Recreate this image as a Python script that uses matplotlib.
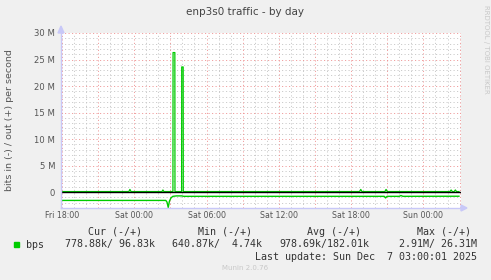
import matplotlib
matplotlib.use("Agg")
import matplotlib.pyplot as plt
from matplotlib.patches import Rectangle, Polygon

W, H = 491, 280

# --- dane (godziny od pt 18:00, Mbit/s) ---
in_hours = [-0.08, 3.0, 6.0, 8.62, 8.72, 8.82, 8.92, 9.05, 9.2, 9.5, 9.95, 10.1,
            14.0, 20.0, 26.75, 26.86, 26.98, 28.0, 28.13, 28.3, 32.95]
in_mbps = [1.57, 1.57, 1.57, 1.57, 1.9, 2.91, 1.7, 1.1, 0.8, 0.72, 0.72, 0.8,
           0.8, 0.8, 0.8, 1.1, 0.8, 0.8, 0.65, 0.8, 0.78]

out_hours = [-0.08, 5.55, 5.64, 5.73, 8.3, 8.38, 8.46, 9.21, 9.22, 9.37, 9.38,
             9.93, 9.94, 10.06, 10.07, 24.7, 24.8, 24.9, 26.8, 26.9, 27.0,
             32.2, 32.3, 32.4, 32.55, 32.65, 32.75, 32.95]
out_mbps = [0.1, 0.1, 0.5, 0.1, 0.1, 0.4, 0.1, 0.1, 26.31, 26.31, 0.1,
            0.1, 23.6, 23.6, 0.1, 0.1, 0.5, 0.1, 0.1, 0.5, 0.1,
            0.1, 0.4, 0.1, 0.1, 0.4, 0.1, 0.1]

tick_hours = [0, 6, 12, 18, 24, 30]
tick_labels = ["Fri 18:00", "Sat 00:00", "Sat 06:00", "Sat 12:00", "Sat 18:00", "Sun 00:00"]
y_ticks = [0, 5, 10, 15, 20, 25, 30]
y_labels = ["0", "5 M", "10 M", "15 M", "20 M", "25 M", "30 M"]

headers = ["Cur (-/+)", "Min (-/+)", "Avg (-/+)", "Max (-/+)"]
values = ["778.88k/ 96.83k", "640.87k/  4.74k", "978.69k/182.01k", "  2.91M/ 26.31M"]

GREEN = "#00cc00"
AXIS = "#c8c8f8"
MINOR = "#c4c4c4"
MAJOR = "#ee9090"


def fx(x):
    return x / W


def fy(y):
    return 1 - y / H


fig = plt.figure(figsize=(W / 100, H / 100), dpi=100, facecolor="#f0f0f0")
ax = fig.add_axes([fx(61), fy(208), (461 - 61) / W, (208 - 33) / H])
ax.set_facecolor("white")

ax.plot(out_hours, out_mbps, color=GREEN, lw=0.9, zorder=3)
ax.plot(in_hours, [-v for v in in_mbps], color=GREEN, lw=1.0, zorder=3)
ax.axhline(0, color="black", lw=1.0, zorder=4)

ax.set_xlim(-0.08, 33.12)
ax.set_ylim(-3, 30)

# siatka: co godzine / co 1M szara, co 3h / co 5M czerwona
dots = (0, (1.4, 2.8))
for h in range(0, 34):
    c = MAJOR if h % 3 == 0 else MINOR
    ax.axvline(h, color=c, lw=0.6, ls=dots, zorder=1 if h % 3 else 2)
for v in range(-3, 31):
    c = MAJOR if v % 5 == 0 else MINOR
    ax.axhline(v, color=c, lw=0.6, ls=dots, zorder=1 if v % 5 else 2)

ax.set_xticks(tick_hours)
ax.set_xticklabels(tick_labels, fontsize=5.7, color="#555555")
ax.set_yticks(y_ticks)
ax.set_yticklabels(y_labels, fontsize=6.1, color="#555555")
ax.tick_params(length=0)
ax.tick_params(axis="y", pad=4.3)
ax.tick_params(axis="x", pad=2.5)

for s in ["top", "right"]:
    ax.spines[s].set_visible(False)
for s in ["left", "bottom"]:
    ax.spines[s].set_color(AXIS)
    ax.spines[s].set_linewidth(1.0)
    ax.spines[s].set_zorder(5)

# strzalki osi
fig.patches.append(Polygon([[fx(58), fy(33)], [fx(64), fy(33)], [fx(61), fy(26)]],
                           closed=True, transform=fig.transFigure, color=AXIS))
fig.patches.append(Polygon([[fx(461), fy(205)], [fx(461), fy(211)], [fx(467), fy(208)]],
                           closed=True, transform=fig.transFigure, color=AXIS))

fig.text(fx(10), fy(120), "bits in (-) / out (+) per second", rotation=90,
         ha="center", va="center", fontsize=6.8, color="#555555")
fig.text(fx(245), fy(12), "enp3s0 traffic - by day", ha="center", va="center",
         fontsize=7.5, color="#444444")
fig.text(fx(486), fy(5), "RRDTOOL / TOBI OETIKER", rotation=270, ha="center", va="top",
         fontsize=5, color="#c8c8c8")

# legenda
mono = "DejaVu Sans Mono"
for x, t in zip([88, 198, 307, 417], headers):
    fig.text(fx(x), fy(232), t, ha="left", va="center", family=mono, fontsize=7.2, color="#333333")
fig.patches.append(Rectangle((fx(14), fy(247)), 5 / W, 5 / H, transform=fig.transFigure,
                             color=GREEN))
fig.text(fx(26), fy(244.5), "bps", ha="left", va="center", family=mono, fontsize=7.2, color="#333333")
for x, t in zip([65, 172, 279, 387], values):
    fig.text(fx(x), fy(244.5), t, ha="left", va="center", family=mono, fontsize=7.2, color="#333333")
fig.text(fx(477), fy(257), "Last update: Sun Dec  7 03:00:01 2025", ha="right", va="center",
         family=mono, fontsize=7.2, color="#333333")
fig.text(fx(245), fy(268.5), "Munin 2.0.76", ha="center", va="center", fontsize=5,
         color="#c8c8c8")

fig.savefig("out.png", dpi=100, facecolor=fig.get_facecolor())
